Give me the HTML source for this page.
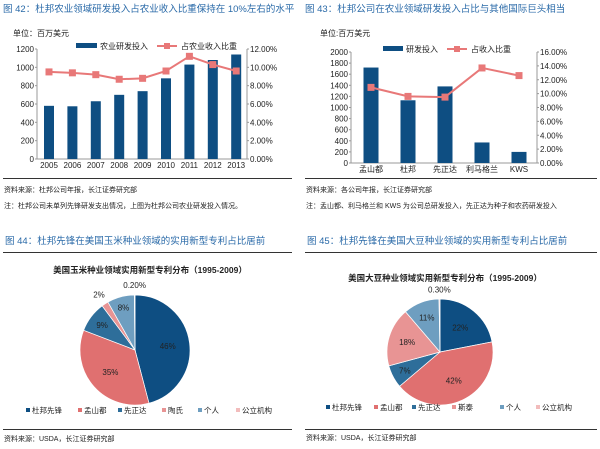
<!DOCTYPE html>
<html><head><meta charset="utf-8"><style>
body{margin:0;background:#fff;width:600px;height:444px;overflow:hidden}
svg{font-family:"Liberation Sans","Noto Sans CJK SC",sans-serif}
</style></head><body>
<svg id="s" width="600" height="444" viewBox="0 0 600 444" xmlns="http://www.w3.org/2000/svg">
<g font-size="9.5" fill="#2a6aa8">
<text x="3" y="12">图 42：杜邦农业领域研发投入占农业收入比重保持在 10%左右的水平</text>
<text x="305" y="12">图 43：杜邦公司在农业领域研发投入占比与其他国际巨头相当</text>
<text x="5" y="244">图 44：杜邦先锋在美国玉米种业领域的实用新型专利占比居前</text>
<text x="307" y="244">图 45：杜邦先锋在美国大豆种业领域的实用新型专利占比居前</text>
</g>
<g stroke="#333" stroke-width="1">
<line x1="3" y1="178.5" x2="292" y2="178.5"/><line x1="305" y1="178.5" x2="597" y2="178.5"/>
<line x1="3" y1="252.5" x2="292" y2="252.5"/><line x1="305" y1="252.5" x2="597" y2="252.5"/>
<line x1="3" y1="429.5" x2="292" y2="429.5"/><line x1="305" y1="429.5" x2="597" y2="429.5"/>
</g>
<g font-size="7" fill="#222">
<text x="4" y="192">资料来源：杜邦公司年报，长江证券研究部</text>
<text x="4" y="208">注：杜邦公司未单列先锋研发支出情况，上图为杜邦公司农业研发投入情况。</text>
<text x="306" y="192">资料来源：各公司年报，长江证券研究部</text>
<text x="306" y="208">注：孟山都、利马格兰和 KWS 为公司总研发投入，先正达为种子和农药研发投入</text>
<text x="4" y="441">资料来源：USDA，长江证券研究部</text>
<text x="306" y="440">资料来源：USDA，长江证券研究部</text>
</g>
<g font-size="8" fill="#222">
<text x="13" y="36">单位：百万美元</text>
<text x="320" y="36">单位:百万美元</text>
</g>
<g font-size="8.5" font-weight="bold" fill="#222" text-anchor="middle">
<text x="150" y="273">美国玉米种业领域实用新型专利分布（1995-2009）</text>
<text x="445" y="281">美国大豆种业领域实用新型专利分布（1995-2009）</text>
</g>
<g id="g"></g>
</svg>
<script>
var g=document.getElementById('g'),h='';
function T(x,y,t,o){h+='<text x="'+x+'" y="'+y+'" '+(o||'')+'>'+t+'</text>';}
function bar(c){
 h+='<line x1="'+c.L+'" y1="'+c.T+'" x2="'+c.L+'" y2="'+c.B+'" stroke="#999"/>';
 h+='<line x1="'+c.R+'" y1="'+c.T+'" x2="'+c.R+'" y2="'+c.B+'" stroke="#999"/>';
 h+='<line x1="'+c.L+'" y1="'+c.B+'" x2="'+c.R+'" y2="'+c.B+'" stroke="#999"/>';
 for(var i=0;i<=c.n;i++){var y=c.B-(c.B-c.T)*i/c.n;
  T(c.L-3,y+3,c.ymax*i/c.n,'font-size="8" text-anchor="end" fill="#222"');
  h+='<line x1="'+(c.L-2)+'" y1="'+y+'" x2="'+c.L+'" y2="'+y+'" stroke="#999"/>';}
 for(var i=0;i<=c.m;i++){var y=c.B-(c.B-c.T)*i/c.m;
  T(c.R+3,y+3,(c.pmax*i/c.m).toFixed(2)+'%','font-size="8" fill="#222"');
  h+='<line x1="'+c.R+'" y1="'+y+'" x2="'+(c.R+2)+'" y2="'+y+'" stroke="#999"/>';}
 var pts=[];
 c.v.forEach(function(v,i){var x=c.x0+c.dx*i,y=c.B-(c.B-c.T)*v/c.ymax;
  h+='<rect x="'+(x-c.w/2)+'" y="'+y+'" width="'+c.w+'" height="'+(c.B-y)+'" fill="#0e4e82"/>';
  T(x,c.B+9,c.lab[i],'font-size="8" text-anchor="middle" fill="#222"');
  pts.push([x,c.B-(c.B-c.T)*c.p[i]/c.pmax]);});
 h+='<polyline points="'+pts.join(' ')+'" fill="none" stroke="#e87878" stroke-width="2"/>';
 pts.forEach(function(p){h+='<rect x="'+(p[0]-3.5)+'" y="'+(p[1]-3.5)+'" width="7" height="7" fill="#e87878"/>';});
 var l=c.leg;
 h+='<rect x="'+l[0]+'" y="'+(l[4]-3)+'" width="'+(l[1]-l[0])+'" height="5" fill="#0e4e82"/>';
 T(l[1]+3,l[4]+3,l[5],'font-size="8" fill="#222"');
 h+='<line x1="'+l[2]+'" y1="'+l[4]+'" x2="'+l[3]+'" y2="'+l[4]+'" stroke="#e87878" stroke-width="2"/><rect x="'+((l[2]+l[3])/2-3)+'" y="'+(l[4]-3)+'" width="6" height="6" fill="#e87878"/>';
 T(l[3]+4,l[4]+3,l[6],'font-size="8" fill="#222"');
}
bar({L:37,R:247,T:49,B:159,n:6,m:6,ymax:1200,pmax:12,x0:49,dx:23.4,w:10,
 v:[580,575,630,700,740,880,1030,1080,1140],p:[9.5,9.4,9.2,8.7,8.8,9.6,11.2,10.3,9.6],
 lab:['2005','2006','2007','2008','2009','2010','2011','2012','2013'],leg:[76,97,157,177,46,'农业研发投入','占农业收入比重']});
bar({L:351,R:537,T:52,B:163,n:10,m:8,ymax:2000,pmax:16,x0:371,dx:37,w:15,
 v:[1720,1130,1380,370,200],p:[10.9,9.6,9.5,13.7,12.6],
 lab:['孟山都','杜邦','先正达','利马格兰','KWS'],leg:[383,403,447,467,49,'研发投入','占收入比重']});
var cols=['#0e4e82','#e07070','#2e6e9a','#e89494','#6e9ec0','#f2bcbc'];
function pie(cx,cy,r,v,labs,lr){var a=-Math.PI/2,s=v.reduce(function(x,y){return x+y});
 v.forEach(function(x,i){var b=a+2*Math.PI*x/s,lg=(b-a)>Math.PI?1:0;
  h+='<path d="M'+cx+','+cy+' L'+(cx+r*Math.cos(a))+','+(cy+r*Math.sin(a))+' A'+r+','+r+' 0 '+lg+' 1 '+(cx+r*Math.cos(b))+','+(cy+r*Math.sin(b))+' Z" fill="'+cols[i]+'" stroke="#fff" stroke-width="0.7"/>';
  var m=(a+b)/2,k=lr[i];T((cx+k*r*Math.cos(m)).toFixed(1),(cy+k*r*Math.sin(m)+3).toFixed(1),labs[i],'font-size="8" text-anchor="middle" fill="#222"');
  a=b;});}
pie(135,350,55,[46,35,9,2,8,0.2],['46%','35%','9%','2%','8%','0.20%'],[0.6,0.6,0.75,1.2,0.8,1.18]);
pie(440,352,53,[22,42,7,18,11,0.3],['22%','42%','7%','18%','11%','0.30%'],[0.6,0.6,0.75,0.65,0.7,1.18]);
var ln=['杜邦先锋','孟山都','先正达','陶氏','个人','公立机构'];
function leg(xs,y){xs.forEach(function(x,i){h+='<rect x="'+x+'" y="'+(y-5)+'" width="4" height="4" fill="'+cols[i]+'"/>';T(x+6,y,ln[i],'font-size="7.5" fill="#222"');});}
leg([26,78,118,162,198,236],413);
ln[3]='斯泰';
leg([326,374,412,452,500,536],410);
g.innerHTML=h;
</script>
</body></html>
